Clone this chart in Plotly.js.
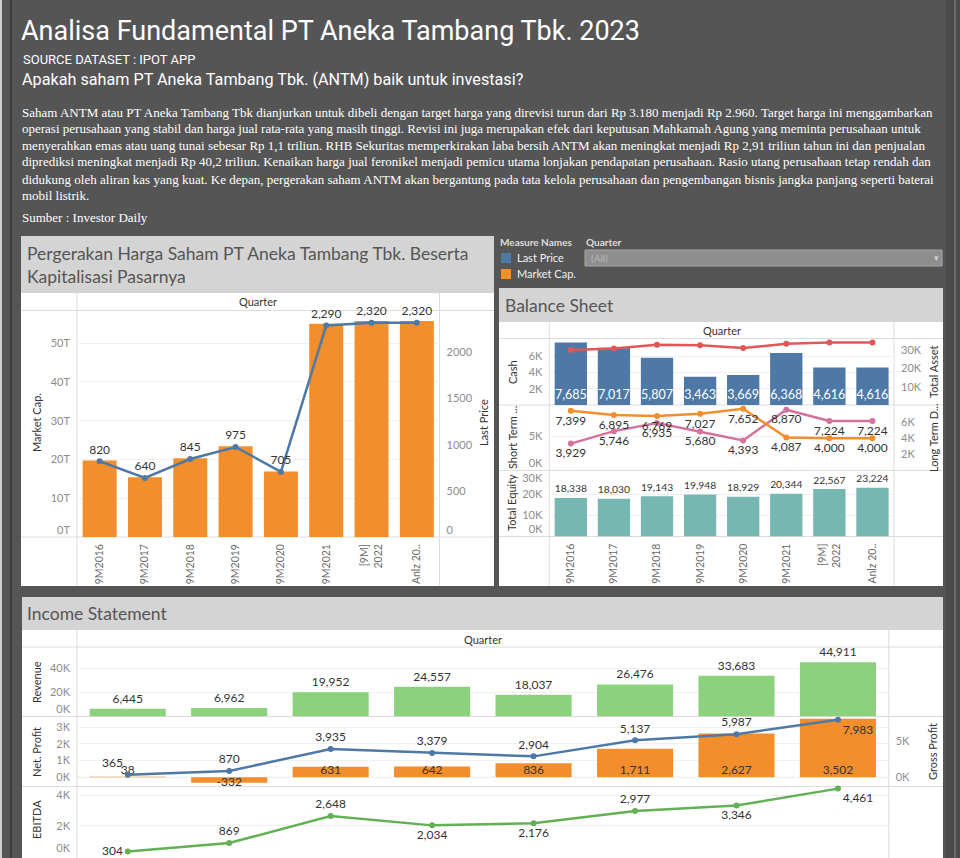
<!DOCTYPE html>
<html>
<head>
<meta charset="utf-8">
<script src="https://cdn.plot.ly/plotly-3.0.1.min.js"></script>
<style>
html,body{margin:0;padding:0;background:#555555;}
#chart{width:960px;height:858px;}
</style>
</head>
<body>
<div id="chart"></div>
<script>
// ---------- DATA ----------
const quarters = ['9M2016','9M2017','9M2018','9M2019','9M2020','9M2021','[9M] 2022','Anlz 2022'];
const quarterTickLabels = ['9M2016','9M2017','9M2018','9M2019','9M2020','9M2021','[9M]<br>2022','Anlz 20..'];

const marketCapT = [19.7, 15.4, 20.3, 23.4, 16.9, 55.0, 55.7, 55.7];
const lastPrice = [820, 640, 845, 975, 705, 2290, 2320, 2320];

const cash = [7685, 7017, 5807, 3463, 3669, 6368, 4616, 4616];
const totalAsset = [29981, 30800, 32900, 32600, 31100, 33400, 34100, 34100];
const shortTermLiab = [3929, 5746, 6935, 5680, 4393, 8870, 7224, 7224];
const longTermDebt = [7399, 6895, 6769, 7027, 7652, 4087, 4000, 4000];
const totalEquity = [18338, 18030, 19143, 19948, 18929, 20344, 22567, 23224];

const revenue = [6445, 6962, 19952, 24557, 18037, 26476, 33683, 44911];
const netProfit = [38, -332, 631, 642, 836, 1711, 2627, 3502];
const grossProfit = [365, 870, 3935, 3379, 2904, 5137, 5987, 7983];
const ebitda = [304, 869, 2648, 2034, 2176, 2977, 3346, 4461];

// tick values
const mcTicks = [0, 10, 20, 30, 40, 50];
const priceTicks = [0, 500, 1000, 1500, 2000];
const cashTicks = [2000, 4000, 6000];
const assetTicks = [10000, 20000, 30000];
const shortTicks = [0, 5000];
const longTicks = [2000, 4000, 6000];
const equityTicks = [0, 10000, 20000, 30000];
const revenueTicks = [0, 20000, 40000];
const netTicks = [0, 1000, 2000, 3000];
const grossTicks = [0, 5000];
const ebitdaTicks = [0, 2000, 4000];

// ---------- HELPERS ----------
const W = 960, H = 858;
const fx = x => x / W;
const fy = y => 1 - y / H;
const kLab = arr => arr.map(v => (v / 1000) + 'K');
const FONT = 'Lato, "Noto Sans", sans-serif';
const fmt = v => v.toLocaleString('en-US');

const C = {
  orange: '#F28E2B', blue: '#4E79A7', teal: '#76B7B2', red: '#E15759',
  pink: '#D3729B', green: '#8CD17D', dgreen: '#62B154'
};

function yax(top, bottom, range, tickvals, ticktext, extra) {
  return Object.assign({
    domain: [fy(bottom), fy(top)], range: range,
    tickmode: 'array', tickvals: tickvals, ticktext: ticktext,
    showgrid: true, gridcolor: '#f0f0f0', gridwidth: 1,
    zeroline: false, showline: false, ticks: '',
    ticklabelstandoff: 6,
    tickfont: {family: FONT, size: 11, color: '#8c8c8c'},
    automargin: false, fixedrange: true
  }, extra || {});
}
// extra axis that only shows an edge tick label, nudged inside the row (as the original does)
function edgeAx(base, anchor, side, vals, labels, shift, range) {
  return {
    overlaying: base, anchor: anchor, side: side, range: range,
    tickmode: 'array', tickvals: vals, ticktext: labels, ticklabelshift: shift,
    showgrid: false, zeroline: false, showline: false, ticks: '', ticklabelstandoff: 6,
    tickfont: {family: FONT, size: 11, color: '#8c8c8c'}, automargin: false, fixedrange: true
  };
}
function xax(left, right, anchor, showLabels) {
  return {
    domain: [fx(left), fx(right)], anchor: anchor, type: 'category',
    categoryorder: 'array', categoryarray: quarters,
    tickmode: 'array', tickvals: quarters, ticktext: quarterTickLabels,
    tickangle: -90, showgrid: false, zeroline: false, showline: false, ticks: '',
    showticklabels: showLabels, ticklabelstandoff: 4,
    tickfont: {family: FONT, size: 10.5, color: '#6a6a6a'},
    automargin: false, fixedrange: true
  };
}

const labelFont = {family: FONT, size: 12, color: '#333'};

// ---------- TRACES ----------
const traces = [];
traces.push({type: 'bar', x: quarters, y: marketCapT, xaxis: 'x', yaxis: 'y',
  marker: {color: C.orange}, hoverinfo: 'skip'});
traces.push({type: 'scatter', mode: 'lines+markers+text', x: quarters, y: lastPrice,
  xaxis: 'x', yaxis: 'y2', line: {color: C.blue, width: 2.5}, marker: {color: C.blue, size: 6},
  text: lastPrice.map(fmt), textposition: 'top center',
  textfont: labelFont, cliponaxis: false, hoverinfo: 'skip'});

traces.push({type: 'bar', x: quarters, y: cash, xaxis: 'x2', yaxis: 'y3',
  marker: {color: C.blue}, text: cash.map(fmt), textangle: 0,
  textposition: 'inside', insidetextanchor: 'start', constraintext: 'none',
  textfont: {family: FONT, size: 12.5, color: '#ffffff'}, hoverinfo: 'skip'});
traces.push({type: 'scatter', mode: 'lines+markers', x: quarters, y: totalAsset,
  xaxis: 'x2', yaxis: 'y4', line: {color: C.red, width: 2.5}, marker: {color: C.red, size: 6},
  cliponaxis: false, hoverinfo: 'skip'});
traces.push({type: 'scatter', mode: 'lines+markers+text', x: quarters, y: shortTermLiab,
  xaxis: 'x2', yaxis: 'y5', line: {color: C.pink, width: 2.5}, marker: {color: C.pink, size: 6},
  text: shortTermLiab.map(fmt), textposition: 'bottom center',
  textfont: labelFont, cliponaxis: false, hoverinfo: 'skip'});
traces.push({type: 'scatter', mode: 'lines+markers+text', x: quarters, y: longTermDebt,
  xaxis: 'x2', yaxis: 'y6', line: {color: C.orange, width: 2.5}, marker: {color: C.orange, size: 6},
  text: longTermDebt.map(fmt), textposition: 'bottom center',
  textfont: labelFont, cliponaxis: false, hoverinfo: 'skip'});
traces.push({type: 'bar', x: quarters, y: totalEquity, xaxis: 'x2', yaxis: 'y7',
  marker: {color: C.teal}, text: totalEquity.map(fmt), textangle: 0,
  textposition: 'outside', textfont: labelFont, cliponaxis: false, hoverinfo: 'skip'});

traces.push({type: 'bar', x: quarters, y: revenue, xaxis: 'x3', yaxis: 'y8',
  marker: {color: C.green}, text: revenue.map(fmt), textangle: 0,
  textposition: 'outside', textfont: labelFont, cliponaxis: false, hoverinfo: 'skip'});
traces.push({type: 'bar', x: quarters, y: netProfit, xaxis: 'x3', yaxis: 'y9',
  marker: {color: C.orange}, hoverinfo: 'skip'});
traces.push({type: 'scatter', mode: 'text', x: quarters, y: netProfit.map(() => 0),
  xaxis: 'x3', yaxis: 'y9', text: netProfit.map(fmt),
  textposition: netProfit.map(v => v < 0 ? 'bottom center' : 'top center'),
  textfont: labelFont, cliponaxis: false, hoverinfo: 'skip'});
traces.push({type: 'scatter', mode: 'lines+markers+text', x: quarters, y: grossProfit,
  xaxis: 'x3', yaxis: 'y10', line: {color: C.blue, width: 2.5}, marker: {color: C.blue, size: 6},
  text: grossProfit.map(fmt),
  textposition: ['top left','top center','top center','top center','top center','top center','top center','bottom right'],
  textfont: labelFont, cliponaxis: false, hoverinfo: 'skip'});
traces.push({type: 'scatter', mode: 'lines+markers+text', x: quarters, y: ebitda,
  xaxis: 'x3', yaxis: 'y11', line: {color: C.dgreen, width: 2.5}, marker: {color: C.dgreen, size: 6},
  text: ebitda.map(fmt),
  textposition: ['middle left','top center','top center','bottom center','bottom center','top center','bottom center','bottom right'],
  textfont: labelFont, cliponaxis: false, hoverinfo: 'skip'});

// empty carriers so the edge-label axes are drawn
[['x','y12'],['x','y13'],['x2','y14'],['x2','y15'],['x2','y16'],['x3','y17'],['x3','y18']].forEach(p =>
  traces.push({type: 'scatter', mode: 'markers', x: [], y: [], xaxis: p[0], yaxis: p[1], hoverinfo: 'skip'}));

// ---------- SHAPES ----------
const shapes = [];
function rect(x0, y0, x1, y1, fill, line) {
  shapes.push({type: 'rect', xref: 'paper', yref: 'paper', x0: fx(x0), x1: fx(x1), y0: fy(y1), y1: fy(y0),
    fillcolor: fill, line: line || {width: 0}, layer: 'below'});
}
function hline(x0, x1, y, color) {
  shapes.push({type: 'line', xref: 'paper', yref: 'paper', x0: fx(x0), x1: fx(x1), y0: fy(y), y1: fy(y),
    line: {color: color || '#dcdcdc', width: 1}, layer: 'below'});
}
function vline(x, y0, y1, color) {
  shapes.push({type: 'line', xref: 'paper', yref: 'paper', x0: fx(x), x1: fx(x), y0: fy(y0), y1: fy(y1),
    line: {color: color || '#dcdcdc', width: 1}, layer: 'below'});
}
rect(0, 0, 2, 858, '#cfcfcf');
rect(10, 0, 12, 858, '#3c3c3c');
rect(946, 0, 960, 858, '#4a4a4a');
rect(954, 0, 956, 858, '#6a6a6a');

rect(21, 236, 494, 293, '#d4d4d4');
rect(21, 293, 494, 586, '#ffffff');
hline(21, 494, 310.5); hline(21, 494, 537);
vline(77, 293, 586); vline(439.5, 293, 586);

rect(501, 253, 511, 263, C.blue);
rect(501, 269, 511, 279, C.orange);
rect(585, 250, 942, 266, '#8e8e8e', {color: '#a8a8a8', width: 1});

rect(499, 288, 943, 322, '#d4d4d4');
rect(499, 322, 943, 586, '#ffffff');
hline(499, 943, 338.5); hline(499, 943, 405); hline(499, 943, 470.5); hline(499, 943, 536.5);
vline(549.3, 322, 586); vline(894, 322, 586);

rect(22, 597, 943, 630, '#d4d4d4');
rect(22, 630, 943, 858, '#ffffff');
hline(22, 943, 647); hline(22, 943, 716.5); hline(22, 943, 786.5);
vline(77, 630, 858); vline(888.7, 630, 858);

shapes.push({type: 'line', xref: 'x3 domain', yref: 'y9', x0: 0, x1: 1, y0: 0, y1: 0,
  line: {color: '#c8c8c8', width: 1, dash: 'dot'}, layer: 'below'});

// ---------- ANNOTATIONS ----------
const annotations = [];
function ann(x, y, text, font, opts) {
  annotations.push(Object.assign({xref: 'paper', yref: 'paper', x: fx(x), y: fy(y), text: text,
    showarrow: false, xanchor: 'left', yanchor: 'middle', font: font}, opts || {}));
}
const white = '#ffffff';
ann(19, 31, 'Analisa Fundamental PT Aneka Tambang Tbk. 2023', {family: 'Roboto, sans-serif', size: 27, color: white});
ann(21, 59, 'SOURCE DATASET : IPOT APP', {family: 'Roboto, sans-serif', size: 13, color: white});
ann(20, 80, 'Apakah saham PT Aneka Tambang Tbk. (ANTM) baik untuk investasi?', {family: 'Roboto, sans-serif', size: 16.2, color: white});

const para = [
  'Saham ANTM atau PT Aneka Tambang Tbk dianjurkan untuk dibeli dengan target harga yang direvisi turun dari Rp 3.180 menjadi Rp 2.960. Target harga ini menggambarkan',
  'operasi perusahaan yang stabil dan harga jual rata-rata yang masih tinggi. Revisi ini juga merupakan efek dari keputusan Mahkamah Agung yang meminta perusahaan untuk',
  'menyerahkan emas atau uang tunai sebesar Rp 1,1 triliun. RHB Sekuritas memperkirakan laba bersih ANTM akan meningkat menjadi Rp 2,91 triliun tahun ini dan penjualan',
  'diprediksi meningkat menjadi Rp 40,2 triliun. Kenaikan harga jual feronikel menjadi pemicu utama lonjakan pendapatan perusahaan. Rasio utang perusahaan tetap rendah dan',
  'didukung oleh aliran kas yang kuat. Ke depan, pergerakan saham ANTM akan bergantung pada tata kelola perusahaan dan pengembangan bisnis jangka panjang seperti baterai',
  'mobil listrik.'
];
const paraY = [112, 129, 145.5, 162, 179, 195.5];
para.forEach((t, i) => ann(20, paraY[i], t, {family: '"Liberation Serif", serif', size: 13, color: white}));
ann(20, 218, 'Sumber : Investor Daily', {family: '"Liberation Serif", serif', size: 13, color: white});

const ttlFont = {family: FONT, size: 17.5, color: '#555555'};
ann(25, 253, 'Pergerakan Harga Saham PT Aneka Tambang Tbk. Beserta', ttlFont);
ann(25, 276, 'Kapitalisasi Pasarnya', ttlFont);
ann(503, 305, 'Balance Sheet', ttlFont);
ann(25, 613, 'Income Statement', ttlFont);

const hdrFont = {family: FONT, size: 11, color: '#333'};
ann(258, 302, 'Quarter', hdrFont, {xanchor: 'center'});
ann(721.5, 330.5, 'Quarter', hdrFont, {xanchor: 'center'});
ann(483, 639, 'Quarter', hdrFont, {xanchor: 'center'});

const axFont = {family: FONT, size: 11, color: '#333'};
function vtitle(x, y, t) { ann(x, y, t, axFont, {textangle: -90, xanchor: 'center'}); }
vtitle(36, 423, 'Market Cap.');
vtitle(483, 423, 'Last Price');
vtitle(512, 372, 'Cash');
vtitle(933, 372, 'Total Asset');
vtitle(512, 438, 'Short Term ...');
vtitle(933, 438, 'Long Term D...');
vtitle(512, 503, 'Total Equity');
vtitle(36, 682, 'Revenue');
vtitle(36, 752, 'Net. Profit');
vtitle(36, 820, 'EBITDA');
vtitle(932, 752, 'Gross Profit');

ann(498, 242, '<b>Measure Names</b>', {family: FONT, size: 10, color: '#dedede'});
ann(515, 258, 'Last Price', {family: FONT, size: 11, color: '#f0f0f0'});
ann(515, 274, 'Market Cap.', {family: FONT, size: 11, color: '#f0f0f0'});
ann(584, 242, '<b>Quarter</b>', {family: FONT, size: 10, color: '#dedede'});
ann(589, 258, '(All)', {family: FONT, size: 10, color: '#b8b8b8'});
ann(936, 258, '▾', {family: FONT, size: 9, color: '#d0d0d0'}, {xanchor: 'center'});

// ---------- LAYOUT ----------
const notEdge = (arr, edges) => arr.filter(v => !edges.includes(v));
const mcMain = notEdge(mcTicks, [0]);
const priceMain = notEdge(priceTicks, [0]);
const shortMain = notEdge(shortTicks, [0]);
const equityMain = notEdge(equityTicks, [0, 30000]);
const revenueMain = notEdge(revenueTicks, [0]);
const ebitdaMain = notEdge(ebitdaTicks, [0]);

const R = {
  mc: [0, 58.4], price: [0, 2453], cash: [0, 8100], asset: [0, 36000], shortT: [0, 9560],
  longT: [0, 8125], equity: [0, 31200], revenue: [0, 57000], net: [-550, 3640],
  gross: [-1280, 8440], ebitda: [-120, 4600]
};

const layout = {
  width: W, height: H, autosize: false,
  margin: {l: 0, r: 0, t: 0, b: 0, pad: 0},
  paper_bgcolor: '#555555', plot_bgcolor: 'rgba(0,0,0,0)',
  showlegend: false, bargap: 0.25, hovermode: false,
  font: {family: FONT},
  xaxis: xax(77, 439.5, 'y', true),
  yaxis: yax(310.5, 537, R.mc, mcMain, mcMain.map(v => v + 'T'), {anchor: 'x'}),
  yaxis2: yax(310.5, 537, R.price, priceMain, priceMain.map(String),
    {overlaying: 'y', side: 'right', anchor: 'x', showgrid: false}),
  xaxis2: xax(549.3, 894, 'y7', true),
  yaxis3: yax(339, 405, R.cash, cashTicks, kLab(cashTicks), {anchor: 'x2'}),
  yaxis4: yax(339, 405, R.asset, assetTicks, kLab(assetTicks),
    {overlaying: 'y3', side: 'right', anchor: 'x2', showgrid: false}),
  yaxis5: yax(405, 470.5, R.shortT, shortMain, kLab(shortMain), {anchor: 'x2'}),
  yaxis6: yax(405, 470.5, R.longT, longTicks, kLab(longTicks),
    {overlaying: 'y5', side: 'right', anchor: 'x2', showgrid: false}),
  yaxis7: yax(471, 536.5, R.equity, equityMain, kLab(equityMain), {anchor: 'x2'}),
  xaxis3: xax(77, 888.7, 'y11', false),
  yaxis8: yax(647.5, 716.5, R.revenue, revenueMain, kLab(revenueMain), {anchor: 'x3'}),
  yaxis9: yax(716.5, 786.5, R.net, netTicks, kLab(netTicks), {anchor: 'x3'}),
  yaxis10: yax(716.5, 786.5, R.gross, grossTicks, kLab(grossTicks),
    {overlaying: 'y9', side: 'right', anchor: 'x3', showgrid: false}),
  yaxis11: yax(786.5, 858, R.ebitda, ebitdaMain, kLab(ebitdaMain), {anchor: 'x3'}),
  // edge labels nudged inward (negative = upward on a y axis here)
  yaxis12: edgeAx('y', 'x', 'left', [0], ['0T'], -7, R.mc),
  yaxis13: edgeAx('y', 'x', 'right', [0], ['0'], -7, R.price),
  yaxis14: edgeAx('y5', 'x2', 'left', [0], ['0K'], -7, R.shortT),
  yaxis15: edgeAx('y7', 'x2', 'left', [0], ['0K'], -7, R.equity),
  yaxis16: edgeAx('y7', 'x2', 'left', [30000], ['30K'], 5, R.equity),
  yaxis17: edgeAx('y8', 'x3', 'left', [0], ['0K'], -7, R.revenue),
  yaxis18: edgeAx('y11', 'x3', 'left', [0], ['0K'], -8, R.ebitda),
  shapes: shapes,
  annotations: annotations
};

Plotly.newPlot('chart', traces, layout, {staticPlot: true, displayModeBar: false});
</script>
</body>
</html>
